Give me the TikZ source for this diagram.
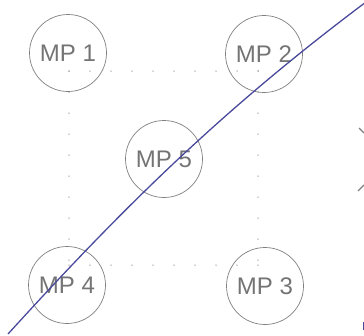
\documentclass[tikz,border=0pt]{standalone}
\usepackage{fontspec}
\setmainfont{Liberation Sans}
\definecolor{circgray}{HTML}{808080}
\definecolor{txtgray}{HTML}{747474}
\definecolor{dotgray}{HTML}{A0A0A0}
\definecolor{lineblue}{HTML}{4A4A9C}
\begin{document}
\begin{tikzpicture}[x=1pt,y=-1pt,
  mp/.style={circle, draw=circgray, line width=0.7pt, minimum size=77pt, inner sep=0pt,
             text=txtgray, font=\fontsize{24}{24}\selectfont},
  dotline/.style={draw=dotgray, line width=1.5pt, line cap=round, dash pattern=on 0pt off 21pt},
  blueline/.style={draw=lineblue, line width=1.3pt},
  frag/.style={draw=circgray, line width=1.2pt}]
\useasboundingbox (0,0) rectangle (364,335);
% dotted square
\coordinate (tl) at (69,71);
\coordinate (tr) at (258,71);
\coordinate (bl) at (69,265);
\coordinate (br) at (258,265);
\draw[dotline] (tl) -- (tr);
\draw[dotline] (tl) -- (bl);
\draw[dotline] (bl) -- (br);
\draw[dotline] (tr) -- (br);
% circles
\node[mp] (mp1) at (68,53) {MP 1};
\node[mp] (mp2) at (264,54) {MP 2};
\node[mp] (mp5) at (164,159) {MP 5};
\node[mp] (mp4) at (67,285) {MP 4};
\node[mp] (mp3) at (265,286) {MP 3};
% cut-off fragments at right edge
\draw[frag] (359,128) -- (364,133);
\draw[frag] (358,191) -- (364,185);
\draw[draw=lineblue, line width=1.2pt] (363.5,322) -- (363.5,330);
% blue curve
\coordinate (ls) at (8,334);
\coordinate (le) at (366,2);
\draw[blueline] (ls) .. controls (128,202) and (226,107) .. (le);
\end{tikzpicture}
\end{document}
